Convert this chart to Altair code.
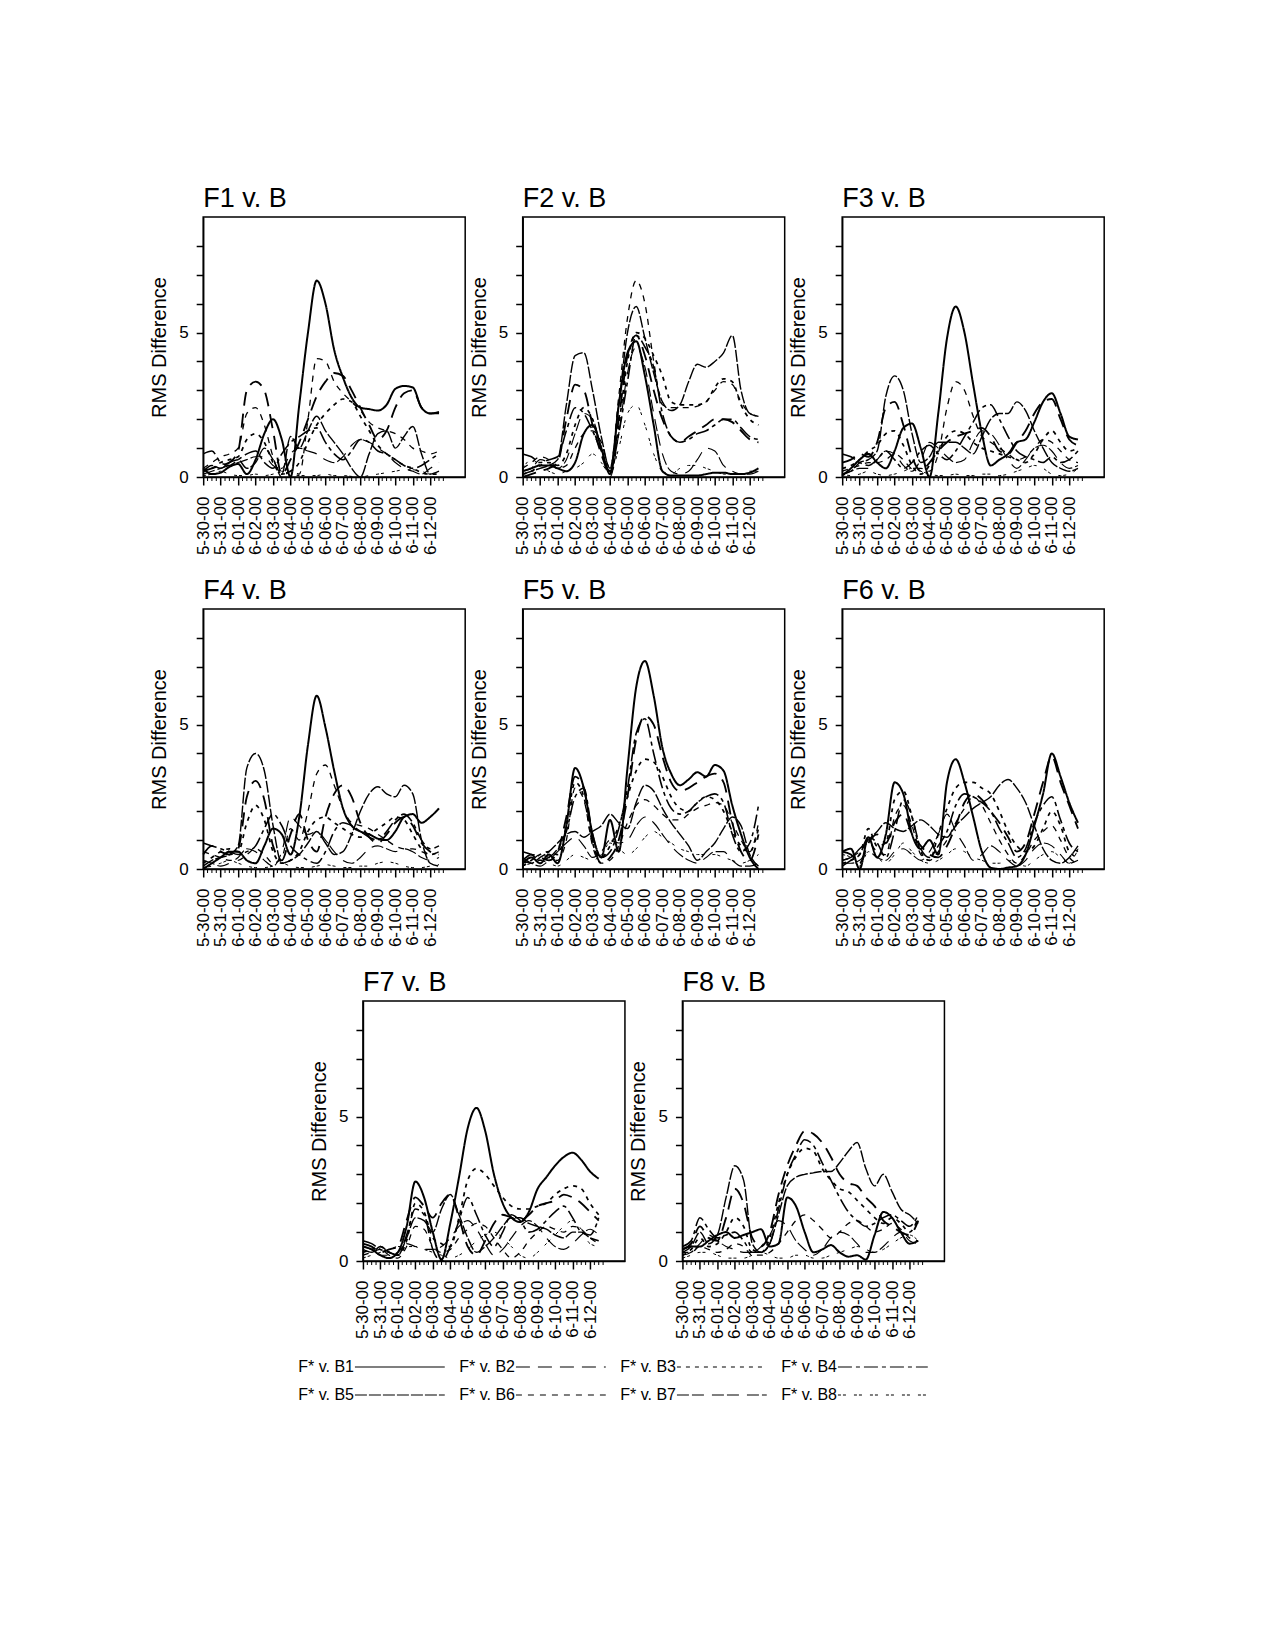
import json
import altair as alt
import pandas as pd

# ---------------- data ----------------
DAYS = [i * 0.5 for i in range(28)]          # sample grid: 5-30-00 ... 6-12-12 (days)
TICK_LABELS = ['5-30-00', '5-31-00', '6-01-00', '6-02-00', '6-03-00', '6-04-00', '6-05-00',
               '6-06-00', '6-07-00', '6-08-00', '6-09-00', '6-10-00', '6-11-00', '6-12-00']
SERIES = ['B1', 'B2', 'B3', 'B4', 'B5', 'B6', 'B7', 'B8']
TITLES = ['F1 v. B', 'F2 v. B', 'F3 v. B', 'F4 v. B', 'F5 v. B', 'F6 v. B', 'F7 v. B', 'F8 v. B']

f1_b1 = [0.3,0.1,0.15,0.35,0.45,0.1,0.6,1.5,2.0,1.3,0.0,2.5,5.0,6.8,6.0,4.4,3.45,2.75,2.4,2.35,2.3,2.5,3.05,3.15,3.1,2.4,2.2,2.25]
f1_b2 = [0.2,0.3,0.4,0.5,0.9,3.0,3.3,3.0,1.6,0.1,0.6,1.2,2.0,2.8,3.3,3.6,3.5,3.0,2.4,1.8,1.3,1.6,2.4,2.9,3.0,2.4,2.2,2.2]
f1_b3 = [0.2,0.3,0.5,0.6,0.7,1.3,1.5,1.2,0.5,0.1,0.2,0.5,1.2,1.8,2.2,2.5,2.7,2.6,2.1,1.6,1.1,0.8,0.6,0.4,0.3,0.15,0.1,0.1]
f1_b4 = [0.8,0.9,0.5,0.4,0.6,0.8,0.9,0.5,0.3,0.8,1.2,1.4,1.6,1.7,1.2,0.8,0.6,0.9,1.3,1.2,0.9,0.8,0.6,0.4,0.3,0.4,0.6,0.8]
f1_b5 = [0.2,0.4,0.3,0.5,0.6,0.3,0.5,1.0,0.6,0.1,1.4,1.0,1.6,2.1,1.6,1.2,0.8,0.3,0.0,0.8,1.5,1.6,1.0,1.4,1.75,0.8,0.1,0.2]
f1_b6 = [0.3,0.5,0.7,0.8,1.0,2.2,2.4,1.8,0.7,0.0,0.2,0.1,2.0,4.1,4.0,3.3,2.9,2.6,2.3,1.9,1.7,1.6,1.5,1.3,1.0,0.9,0.8,0.9]
f1_b7 = [0.1,0.2,0.3,0.4,0.5,0.6,0.7,0.7,0.4,0.3,0.8,1.0,0.9,0.8,0.6,0.5,0.7,1.1,1.3,1.2,1.0,0.8,0.5,0.3,0.2,0.1,0.3,0.5]
f1_b8 = [0.05,0.1,0.2,0.1,0.05,0.05,0.1,0.05,0.1,0.2,0.1,0.05,0.05,0.05,0.1,0.05,0.05,0.02,0.0,0.05,0.1,0.15,0.2,0.25,0.25,0.2,0.1,0.1]

f2_b1 = [0.2,0.3,0.4,0.4,0.3,0.2,0.5,1.5,1.8,1.0,0.1,2.5,4.3,4.7,3.5,1.8,0.2,0.05,0.05,0.05,0.05,0.1,0.15,0.15,0.1,0.1,0.15,0.3]
f2_b2 = [0.0,0.1,0.2,0.3,0.5,2.0,3.2,3.0,1.8,0.8,0.1,2.0,4.2,4.9,4.2,3.0,2.0,1.4,1.2,1.4,1.6,1.8,2.0,2.0,1.9,1.6,1.3,1.2]
f2_b3 = [0.1,0.2,0.4,0.5,0.4,0.8,1.8,2.4,2.0,1.0,0.2,1.8,4.0,5.0,4.8,4.2,3.5,2.6,2.5,2.5,2.5,2.6,3.1,3.4,3.3,2.5,2.0,1.8]
f2_b4 = [0.8,0.7,0.5,0.6,0.7,1.6,2.4,2.2,1.6,0.9,0.2,1.5,3.3,4.9,4.5,3.8,2.2,1.4,1.2,1.3,1.5,1.6,1.8,2.0,2.0,1.7,1.4,1.3]
f2_b5 = [0.1,0.2,0.3,0.4,0.6,2.5,4.2,4.3,3.0,1.4,0.3,2.5,5.0,5.9,4.8,3.6,2.6,2.3,2.5,3.3,3.9,3.8,4.0,4.3,4.9,3.0,2.2,2.1]
f2_b6 = [0.3,0.5,0.7,0.6,0.3,0.4,1.0,1.5,1.6,1.2,0.3,2.8,5.5,6.8,6.0,4.0,2.5,2.4,2.4,2.4,2.45,2.6,3.0,3.3,3.2,2.6,2.2,2.1]
f2_b7 = [0.2,0.3,0.6,0.5,0.3,0.6,1.5,2.2,2.0,1.0,0.0,1.5,3.6,4.5,3.8,2.2,0.8,0.2,0.1,0.2,0.6,1.0,0.9,0.4,0.2,0.1,0.1,0.2]
f2_b8 = [0.3,0.6,0.4,0.2,0.1,0.2,0.3,0.5,0.8,0.5,0.1,1.0,2.2,2.5,1.8,0.8,0.2,0.1,0.3,0.4,0.4,0.3,0.2,0.1,0.1,0.1,0.2,0.2]

f3_b1 = [0.05,0.3,0.6,0.8,0.5,0.3,0.9,1.7,1.85,1.0,0.0,2.2,4.8,5.9,5.0,3.2,1.5,0.4,0.6,0.8,1.2,1.3,1.9,2.6,2.9,2.2,1.4,1.3]
f3_b2 = [0.5,0.6,0.8,0.7,1.2,2.4,2.6,1.8,0.7,0.2,0.5,0.9,1.2,1.4,1.5,1.6,1.7,1.4,0.9,0.8,1.2,1.6,2.2,2.6,2.7,2.0,1.3,1.1]
f3_b3 = [0.3,0.4,0.6,0.9,1.1,1.5,1.6,1.1,0.4,0.1,0.4,0.9,1.4,1.6,1.5,1.2,1.0,0.9,0.8,0.7,0.6,0.5,0.8,1.3,1.6,1.2,0.9,1.0]
f3_b4 = [0.8,0.7,0.5,0.4,0.6,0.9,0.6,0.3,0.5,0.9,1.1,0.8,0.6,0.9,1.4,1.9,2.4,2.5,2.0,1.4,0.9,0.7,0.6,0.5,0.7,0.5,0.6,0.9]
f3_b5 = [0.1,0.2,0.5,0.6,0.9,2.8,3.5,3.0,1.5,0.5,0.7,1.2,1.2,1.2,1.0,0.8,1.4,2.0,2.2,2.2,2.6,2.3,1.6,1.0,0.5,0.3,0.2,0.3]
f3_b6 = [0.2,0.3,0.4,0.5,0.5,0.6,0.8,0.6,0.3,0.3,0.2,0.8,2.4,3.3,3.0,2.1,1.4,1.2,1.0,0.8,0.6,0.7,1.0,1.3,1.2,0.9,0.6,0.5]
f3_b7 = [0.1,0.2,0.3,0.3,0.6,0.9,0.8,0.4,0.2,0.6,1.2,1.0,0.7,0.5,0.6,1.2,1.6,1.5,1.1,0.6,0.3,0.6,1.0,1.1,0.9,0.5,0.3,0.4]
f3_b8 = [0.1,0.05,0.1,0.2,0.1,0.05,0.1,0.2,0.3,0.2,0.1,0.05,0.05,0.1,0.05,0.05,0.1,0.1,0.05,0.1,0.2,0.3,0.4,0.3,0.1,0.05,0.1,0.3]

f4_b1 = [0.0,0.2,0.4,0.6,0.6,0.3,0.2,0.8,1.4,1.2,0.5,1.8,4.3,6.0,4.9,3.4,2.1,1.5,1.3,1.2,1.05,1.0,1.3,1.8,1.9,1.6,1.8,2.1]
f4_b2 = [0.5,0.8,0.6,0.5,0.7,2.5,3.05,2.4,0.8,0.3,1.2,1.9,1.0,0.6,1.8,2.6,2.9,2.5,1.6,1.1,0.9,1.2,1.6,1.8,1.5,0.9,0.6,0.5]
f4_b3 = [0.2,0.4,0.6,0.7,0.6,1.6,2.2,1.7,0.6,0.2,0.3,0.6,1.3,1.7,1.8,1.6,1.4,1.2,1.1,1.2,1.4,1.6,1.8,1.7,1.2,0.7,0.5,0.6]
f4_b4 = [0.9,0.8,0.7,0.6,0.5,0.6,0.8,1.4,1.9,1.5,0.8,0.5,0.3,0.2,0.6,1.3,1.6,1.5,1.3,1.1,1.0,1.3,1.7,1.9,1.6,1.0,0.7,0.8]
f4_b5 = [0.1,0.3,0.4,0.5,0.8,3.5,4.0,3.4,1.5,0.2,0.3,0.5,0.9,1.3,0.9,0.5,0.6,1.2,2.0,2.6,2.85,2.6,2.5,2.9,2.6,1.0,0.2,0.1]
f4_b6 = [0.6,0.5,0.4,0.3,0.3,0.5,0.7,0.5,0.2,0.4,1.4,1.0,2.0,3.3,3.6,2.9,2.1,1.6,1.5,1.4,1.2,1.0,0.8,0.7,0.7,0.6,0.5,0.6]
f4_b7 = [0.3,0.2,0.1,0.2,0.4,0.7,0.6,0.3,0.1,0.6,1.8,1.5,1.2,1.3,1.0,0.6,0.3,0.2,0.4,0.7,0.8,0.7,0.6,0.7,0.6,0.4,0.3,0.4]
f4_b8 = [0.05,0.1,0.2,0.3,0.2,0.1,0.05,0.05,0.1,0.2,0.1,0.05,0.05,0.1,0.15,0.1,0.05,0.05,0.1,0.1,0.2,0.25,0.2,0.1,0.05,0.05,0.1,0.15]

f5_b1 = [0.2,0.4,0.2,0.5,0.2,1.5,3.5,2.8,1.2,0.4,1.7,0.6,3.5,6.3,7.2,6.0,4.2,3.3,2.9,3.1,3.35,3.2,3.6,3.4,2.2,1.2,0.4,0.0]
f5_b2 = [0.3,0.5,0.4,0.3,0.6,1.8,3.2,2.8,1.0,0.2,0.4,1.0,2.5,4.5,5.3,5.0,3.9,3.0,2.7,2.8,3.0,3.2,3.3,3.0,1.6,0.6,0.3,1.2]
f5_b3 = [0.1,0.3,0.5,0.6,0.5,1.5,3.0,2.5,0.9,0.4,0.8,1.5,2.5,3.4,3.8,3.7,3.2,2.5,2.1,2.0,2.3,2.5,2.4,2.0,1.3,0.8,0.6,1.4]
f5_b4 = [0.6,0.5,0.3,0.4,0.7,1.3,2.5,2.8,1.2,0.4,0.6,1.4,2.8,4.7,5.2,4.0,2.8,2.1,1.9,2.0,2.3,2.5,2.6,2.3,1.2,0.6,0.9,2.2]
f5_b5 = [0.3,0.2,0.4,0.6,0.9,1.2,1.3,1.1,1.3,1.5,1.9,1.6,1.4,2.3,2.9,2.7,2.1,1.6,1.2,0.8,0.3,0.6,0.9,1.4,1.8,1.5,0.5,0.1]
f5_b6 = [0.2,0.3,0.5,0.4,0.3,1.0,2.8,2.4,0.8,0.2,0.3,0.8,1.6,2.2,2.4,2.2,1.9,1.7,1.7,1.9,2.1,2.2,2.3,2.2,1.6,1.0,0.6,1.6]
f5_b7 = [0.4,0.2,0.1,0.3,0.6,0.9,1.1,0.8,0.4,0.6,1.0,0.9,1.0,1.5,1.8,1.6,1.2,0.8,0.5,0.3,0.2,0.4,0.6,0.6,0.3,0.1,0.1,0.2]
f5_b8 = [0.1,0.2,0.3,0.2,0.1,0.3,0.5,0.4,0.3,0.5,0.9,0.7,0.5,0.7,1.1,1.3,1.1,0.9,0.7,0.6,0.5,0.5,0.5,0.4,0.3,0.2,0.3,0.5]

f6_b1 = [0.6,0.7,0.0,1.1,0.4,1.2,3.0,2.6,1.2,0.7,1.0,0.5,3.0,3.8,3.0,1.8,0.6,0.05,0.0,0.05,0.1,0.5,1.5,2.6,4.0,3.2,2.3,1.6]
f6_b2 = [0.6,0.5,0.2,0.9,1.2,0.9,1.6,1.9,1.2,0.8,0.5,0.4,0.8,1.5,2.3,2.6,2.4,2.0,1.6,1.1,0.6,0.9,1.9,3.0,3.9,3.0,2.2,1.4]
f6_b3 = [0.2,0.3,0.5,1.4,0.8,0.9,2.4,2.7,1.8,0.6,0.3,1.2,2.1,2.8,3.0,3.0,2.8,2.6,2.0,1.3,0.8,0.6,0.8,1.4,2.0,1.5,0.6,0.4]
f6_b4 = [0.1,0.3,0.5,1.1,0.9,0.4,1.3,2.4,1.8,0.7,0.4,0.8,1.3,2.2,2.6,2.5,2.3,2.0,1.4,0.9,0.4,0.7,1.6,2.2,2.5,1.7,0.9,0.6]
f6_b5 = [0.3,0.4,0.7,1.0,1.3,1.6,1.4,1.3,1.5,1.7,1.5,1.2,1.1,1.5,1.8,2.1,2.3,2.5,2.9,3.1,2.8,2.3,1.5,0.7,0.3,0.2,0.4,0.8]
f6_b6 = [0.3,0.4,0.6,0.9,0.6,0.5,1.8,2.2,1.5,0.5,0.3,0.6,1.0,1.6,2.1,2.5,2.2,1.6,1.0,0.5,0.2,0.5,1.0,1.3,1.5,1.0,0.4,0.2]
f6_b7 = [0.2,0.2,0.3,0.6,0.4,0.3,0.6,0.7,0.5,0.3,0.6,1.2,1.9,1.3,0.8,0.3,0.5,0.8,0.6,0.3,0.1,0.3,0.7,0.9,0.8,0.5,0.2,0.3]
f6_b8 = [0.5,0.4,0.1,0.6,0.4,0.2,0.5,0.9,0.6,0.3,0.2,0.3,0.5,0.7,0.6,0.4,0.3,0.2,0.2,0.3,0.2,0.1,0.3,0.5,0.6,0.4,0.2,0.7]

f7_b1 = [0.5,0.4,0.2,0.1,0.3,1.2,2.75,2.2,1.0,0.05,1.3,2.9,4.6,5.3,4.5,3.0,2.0,1.5,1.35,1.7,2.5,2.9,3.3,3.6,3.75,3.5,3.1,2.85]
f7_b2 = [0.6,0.5,0.3,0.4,0.5,1.4,2.2,1.9,1.5,2.0,2.3,1.5,0.5,0.2,0.7,1.3,1.6,1.5,1.4,1.6,1.9,2.0,2.1,2.3,2.2,2.0,1.7,1.4]
f7_b3 = [0.3,0.4,0.5,0.3,0.2,0.7,2.0,1.7,0.8,0.6,0.5,1.5,2.8,3.2,3.0,2.6,2.2,1.9,1.8,1.8,1.9,2.0,2.3,2.5,2.6,2.5,2.0,1.6]
f7_b4 = [0.7,0.6,0.4,0.3,0.2,0.9,1.8,1.6,0.4,0.0,0.5,1.4,2.2,1.6,0.9,0.5,1.0,1.6,1.4,1.0,1.1,1.4,1.7,1.9,1.5,1.0,0.9,1.5]
f7_b5 = [0.4,0.3,0.5,0.3,0.2,0.8,1.5,1.4,1.0,1.8,2.3,1.6,0.8,0.3,0.5,0.8,1.2,1.5,1.5,1.3,1.2,1.1,0.9,0.8,1.0,1.0,0.8,0.7]
f7_b6 = [0.2,0.3,0.4,0.2,0.1,0.5,1.2,1.1,0.5,0.3,0.4,0.8,1.1,1.3,1.2,0.8,0.4,0.1,0.3,0.7,1.0,1.2,1.1,1.0,1.2,1.1,0.8,0.6]
f7_b7 = [0.5,0.4,0.2,0.2,0.3,0.6,0.5,0.4,0.4,0.5,0.8,1.2,1.4,1.1,0.6,0.2,0.4,0.8,1.2,1.4,1.2,0.8,0.5,0.4,0.6,0.9,1.1,0.9]
f7_b8 = [0.1,0.2,0.3,0.4,0.5,0.5,0.5,0.4,0.3,0.2,0.1,0.2,0.4,0.7,0.9,1.0,0.8,0.5,0.2,0.1,0.3,0.6,0.9,1.2,1.4,1.1,0.6,0.5]

f8_b1 = [0.4,0.5,0.5,0.7,0.9,1.0,0.8,0.9,1.0,1.1,0.5,0.6,2.2,1.9,1.0,0.3,0.4,0.55,0.3,0.15,0.2,0.05,0.9,1.7,1.5,1.0,0.6,0.7]
f8_b2 = [0.4,0.6,1.2,0.8,0.7,1.5,2.5,2.0,0.8,0.5,1.0,2.3,3.3,4.0,4.5,4.4,4.1,3.6,3.0,2.7,2.6,2.2,1.9,1.4,1.2,1.0,0.9,1.4]
f8_b3 = [0.2,0.4,0.8,0.5,0.6,1.0,1.5,1.2,0.4,0.3,0.8,2.0,3.0,3.6,3.9,3.8,3.2,2.8,2.5,2.4,2.1,1.8,1.5,1.3,1.5,1.3,1.0,1.5]
f8_b4 = [0.5,0.7,1.5,1.1,0.8,0.9,1.0,0.7,0.3,0.3,0.6,1.8,3.0,3.7,4.2,4.0,3.4,2.8,2.2,1.7,1.4,1.2,1.3,1.5,1.6,1.4,1.2,1.6]
f8_b5 = [0.3,0.5,1.0,0.6,0.9,2.2,3.3,2.8,0.6,0.3,0.6,1.6,2.6,2.9,3.0,3.05,3.1,3.1,3.4,3.8,4.1,3.2,2.6,3.0,2.4,1.8,1.6,1.3]
f8_b6 = [0.3,0.3,0.5,0.4,0.3,0.4,0.6,0.5,0.2,0.2,0.3,0.6,1.0,1.4,1.6,1.4,1.1,0.8,1.0,1.3,1.4,1.2,1.0,1.1,1.3,1.1,0.8,0.7]
f8_b7 = [0.2,0.3,0.6,0.9,0.7,0.5,0.4,0.3,0.3,0.5,0.9,1.4,1.2,0.7,0.4,0.2,0.4,0.8,1.0,0.9,0.6,0.3,0.3,0.5,0.8,1.0,0.7,0.6]
f8_b8 = [0.1,0.2,0.3,0.3,0.2,0.1,0.1,0.1,0.2,0.3,0.2,0.1,0.1,0.2,0.2,0.1,0.1,0.2,0.3,0.4,0.5,0.4,0.3,0.4,0.6,0.8,0.9,0.7]

PANELS = [
    [f1_b1, f1_b2, f1_b3, f1_b4, f1_b5, f1_b6, f1_b7, f1_b8],
    [f2_b1, f2_b2, f2_b3, f2_b4, f2_b5, f2_b6, f2_b7, f2_b8],
    [f3_b1, f3_b2, f3_b3, f3_b4, f3_b5, f3_b6, f3_b7, f3_b8],
    [f4_b1, f4_b2, f4_b3, f4_b4, f4_b5, f4_b6, f4_b7, f4_b8],
    [f5_b1, f5_b2, f5_b3, f5_b4, f5_b5, f5_b6, f5_b7, f5_b8],
    [f6_b1, f6_b2, f6_b3, f6_b4, f6_b5, f6_b6, f6_b7, f6_b8],
    [f7_b1, f7_b2, f7_b3, f7_b4, f7_b5, f7_b6, f7_b7, f7_b8],
    [f8_b1, f8_b2, f8_b3, f8_b4, f8_b5, f8_b6, f8_b7, f8_b8],
]

# minor ticks every 6 hours up to 6-12-18
MINOR = [i * 0.25 for i in range(56) if i % 4 != 0]

# ---------------- styles ----------------
FONT = 'Liberation Sans'
DASH_SCALE = alt.Scale(domain=SERIES,
                       range=[[1, 0], [14, 8], [4, 5], [14, 4, 4, 4], [12, 2], [6, 6], [12, 3, 12, 8], [3, 2, 3, 8]])
WIDTH_SCALE = alt.Scale(domain=SERIES, range=[2.0, 1, 1, 1, 1, 1, 1, 1])
PW, PH = 262, 260

x_label_expr = json.dumps(TICK_LABELS) + '[datum.value]'

X_ENC = alt.X('day:Q',
              scale=alt.Scale(domain=[0, 15], nice=False, zero=False),
              axis=alt.Axis(values=list(range(14)), labelExpr=x_label_expr, labelAngle=270,
                            labelFontSize=17, labelFont=FONT, labelColor='black',
                            labelOverlap=False, labelFlush=False, labelPadding=11,
                            tickSize=8, tickWidth=1.5, tickColor='black',
                            domainColor='black', domainWidth=1.5, grid=False, title=None))
Y_ENC = alt.Y('rms:Q',
              scale=alt.Scale(domain=[0, 9], nice=False),
              axis=alt.Axis(values=list(range(9)),
                            labelExpr="datum.value == 0 || datum.value == 5 ? datum.label : ''",
                            labelFontSize=17, labelFont=FONT, labelColor='black', labelPadding=8,
                            tickSize=7, tickWidth=1.5, tickColor='black',
                            domainColor='black', domainWidth=1.5, grid=False,
                            title='RMS Difference', titleFont=FONT, titleFontSize=20,
                            titleFontWeight='normal', titleColor='black', titlePadding=9))


def panel(title, series_values):
    rows = []
    for s, vals in zip(SERIES, series_values):
        for d, v in zip(DAYS, vals):
            rows.append({'day': d, 'rms': v, 'series': s})
    df = pd.DataFrame(rows)
    lines = alt.Chart(df).mark_line(interpolate='monotone', color='black').encode(
        x=X_ENC, y=Y_ENC,
        strokeDash=alt.StrokeDash('series:N', scale=DASH_SCALE, legend=None),
        strokeWidth=alt.StrokeWidth('series:N', scale=WIDTH_SCALE, legend=None),
    )
    minor = alt.Chart(pd.DataFrame({'day': MINOR})).mark_rule(color='black', strokeWidth=1).encode(
        x=X_ENC, y=alt.value(PH), y2=alt.value(PH + 4))
    return alt.layer(lines, minor).properties(
        width=PW, height=PH,
        title=alt.TitleParams(title, anchor='start', frame='group', fontSize=27, font=FONT,
                              fontWeight='normal', color='black', offset=4),
        view=alt.ViewBackground(stroke='black', strokeWidth=1.5),
    )


panels = [panel(t, v) for t, v in zip(TITLES, PANELS)]

row1 = alt.hconcat(panels[0], panels[1], panels[2], spacing=1.5)
row2 = alt.hconcat(panels[3], panels[4], panels[5], spacing=1.5)
row3 = alt.hconcat(panels[6], panels[7], spacing=1.5)
grid = alt.vconcat(row1, row2, row3, spacing=20, center=True)

# ---------------- legend ----------------
leg_df = pd.DataFrame({
    'series': SERIES,
    'label': ['F* v. ' + s for s in SERIES],
    'col': [0, 1, 2, 3, 0, 1, 2, 3],
    'row': [0, 0, 0, 0, 1, 1, 1, 1],
})
LEG_W = 711
lx = alt.Scale(domain=[0, 4.416], nice=False, zero=True)
ly = alt.Scale(domain=[0, 1])
leg_text = alt.Chart(leg_df).mark_text(align='left', baseline='middle', fontSize=16, font=FONT,
                                       color='black').encode(
    x=alt.X('col:Q', scale=lx, axis=None),
    y=alt.Y('row:O', scale=ly, axis=None),
    text='label:N')
leg_line = alt.Chart(leg_df).transform_calculate(
    xa='datum.col + 0.352', xb='datum.col + 0.91'
).mark_rule(color='black', strokeWidth=1.2).encode(
    x=alt.X('xa:Q', scale=lx, axis=None),
    x2='xb:Q',
    y=alt.Y('row:O', scale=ly, axis=None),
    strokeDash=alt.StrokeDash('series:N', scale=DASH_SCALE, legend=None))
legend = alt.layer(leg_text, leg_line).properties(
    width=LEG_W, height=56, view=alt.ViewBackground(stroke='transparent'))

chart = alt.vconcat(grid, legend, spacing=12, center=True).properties(
    padding={'left': 140, 'top': 176, 'right': 5, 'bottom': 5}
).configure(background='white')

chart.save('out.html', embed_options={'renderer': 'svg', 'actions': False})
